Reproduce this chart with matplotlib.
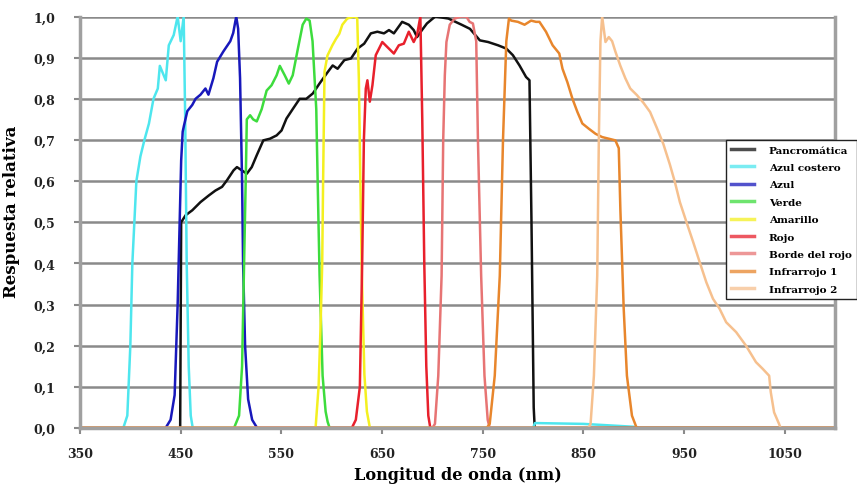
import matplotlib
matplotlib.use("Agg")
import matplotlib.pyplot as plt
from matplotlib.ticker import FuncFormatter, MultipleLocator

# Spectral response curves (wavelength nm, relative response)
pan_nm = [449.5, 450.5, 454.9, 461.5, 469.7, 477.9, 484.5, 491.1, 496, 502.5, 505.9, 510.8,
          515.7, 520.6, 525.6, 532.1, 538.7, 545.3, 550.2, 555.1, 561.6, 568.2, 574.8, 581.3,
          587.9, 596.1, 601, 605.9, 612.6, 619.2, 625.7, 632.3, 638.9, 645.4, 652, 656.9,
          661.8, 670, 676.6, 681.5, 684.8, 689.7, 694.6, 702.9, 716, 729.1, 737.4, 747.2,
          755.4, 765.3, 773.5, 780, 786.6, 793.1, 796.5, 798.5, 800.7, 801.7]
pan_val = [0, 0.5, 0.517, 0.529, 0.549, 0.565, 0.577, 0.586, 0.602, 0.626, 0.634, 0.626,
           0.618, 0.634, 0.663, 0.699, 0.703, 0.711, 0.723, 0.752, 0.776, 0.80, 0.80, 0.813,
           0.837, 0.865, 0.881, 0.873, 0.894, 0.898, 0.922, 0.934, 0.959, 0.963, 0.959, 0.967,
           0.959, 0.987, 0.98, 0.967, 0.95, 0.967, 0.983, 1.0, 0.995, 0.98, 0.97, 0.942,
           0.938, 0.93, 0.922, 0.906, 0.881, 0.853, 0.845, 0.5, 0.05, 0]

coastal_nm = [350, 393, 397, 400, 402, 406, 410, 414, 418.5, 423, 427.3, 429.3, 435.2, 438.2,
              443.1, 447, 450, 453, 454.5, 456, 458, 460, 462, 800, 802, 850, 900, 905, 1100]
coastal_val = [0, 0, 0.03, 0.2, 0.4, 0.6, 0.66, 0.70, 0.74, 0.80, 0.825, 0.88, 0.845, 0.93,
               0.955, 1.0, 0.94, 1.0, 0.75, 0.4, 0.15, 0.03, 0, 0, 0.012, 0.01, 0.003, 0, 0]

blue_nm = [350, 435, 440, 444, 447, 449, 450.5, 452, 453.3, 456.6, 461.5, 464.8, 469.7, 474.6,
           477.6, 482.5, 486.2, 492.4, 499.3, 502.2, 505.2, 507.1, 509, 511, 512, 514, 517,
           521, 526, 1100]
blue_val = [0, 0, 0.02, 0.08, 0.3, 0.5, 0.65, 0.72, 0.735, 0.77, 0.785, 0.80, 0.81, 0.825,
            0.81, 0.85, 0.89, 0.915, 0.94, 0.96, 1.0, 0.97, 0.85, 0.6, 0.4, 0.2, 0.07,
            0.02, 0, 0]

green_nm = [350, 503, 508, 511, 513, 515, 515.7, 519, 522, 525.6, 530.5, 535.4, 540.3, 545.3,
            548.5, 553.4, 557.4, 561.3, 566.3, 571.2, 574.8, 578.1, 581, 584.7, 586, 588,
            591, 594, 596, 598, 1100]
green_val = [0, 0, 0.03, 0.15, 0.4, 0.65, 0.75, 0.76, 0.75, 0.745, 0.775, 0.82, 0.833, 0.857,
             0.88, 0.857, 0.837, 0.857, 0.92, 0.98, 0.995, 0.99, 0.94, 0.775, 0.61, 0.37,
             0.127, 0.04, 0.015, 0, 0]

yellow_nm = [350, 584, 587, 589, 590.6, 591.5, 592.9, 595.8, 600.7, 604.4, 607.6, 610.6, 615.5,
             622.4, 625.4, 627, 628.5, 630, 632.5, 635, 638, 1100]
yellow_val = [0, 0, 0.1, 0.25, 0.4, 0.6, 0.866, 0.905, 0.93, 0.946, 0.958, 0.98, 0.995, 1.0,
              0.995, 0.85, 0.6, 0.37, 0.13, 0.04, 0, 0]

red_nm = [350, 620, 624, 628, 630.3, 632, 633.9, 635.5, 637.9, 640.5, 643.8, 650.3, 655.2,
          661.8, 666.7, 671.7, 676.6, 681.5, 684.8, 688.1, 690, 692, 694, 696, 698, 1100]
red_val = [0, 0, 0.02, 0.1, 0.4, 0.7, 0.825, 0.845, 0.793, 0.833, 0.906, 0.938, 0.926, 0.91,
           0.93, 0.934, 0.963, 0.938, 0.955, 1.0, 0.75, 0.4, 0.15, 0.03, 0, 0]

rededge_nm = [350, 700, 702.6, 705.9, 709.2, 710.8, 712.4, 714, 717.3, 722.2, 728.8, 733.7, 737,
              740.3, 743.6, 745.3, 748.5, 751.8, 755, 757, 1100]
rededge_val = [0, 0, 0.01, 0.127, 0.37, 0.70, 0.857, 0.938, 0.98, 0.995, 1.0, 1.0, 0.987,
               0.983, 0.94, 0.70, 0.37, 0.127, 0.02, 0, 0]

nir1_nm = [350, 754, 757, 762, 767, 770.2, 773.5, 776.1, 778.4, 785, 791.6, 798.1, 803, 806.4,
           812.9, 819.5, 826.1, 829.3, 834.2, 839.2, 844.1, 849, 855.6, 862.1, 868.7, 875.3,
           881.8, 885.2, 886.8, 890.1, 893.3, 898.3, 903, 1100]
nir1_val = [0, 0, 0.01, 0.127, 0.37, 0.70, 0.94, 0.995, 0.99, 0.987, 0.98, 0.99, 0.987, 0.987,
            0.963, 0.93, 0.91, 0.873, 0.84, 0.80, 0.768, 0.74, 0.727, 0.715, 0.707, 0.703,
            0.699, 0.68, 0.53, 0.29, 0.127, 0.03, 0, 0]

nir2_nm = [350, 855, 857.2, 860.5, 863.8, 865.4, 867, 868.7, 872, 875.3, 878.6, 881.8, 886.8,
           891.7, 896.6, 903.2, 909.8, 916.3, 922.9, 929.5, 936, 940.9, 945.9, 952.5, 959.1,
           965.6, 972.2, 978.8, 985.3, 991.9, 1001.8, 1011.6, 1021.5, 1028.1, 1034.6, 1036.2,
           1039.5, 1044.4, 1046, 1100]
nir2_val = [0, 0, 0.01, 0.127, 0.37, 0.70, 0.94, 1.0, 0.938, 0.95, 0.94, 0.915, 0.88, 0.85,
            0.825, 0.809, 0.79, 0.768, 0.73, 0.69, 0.64, 0.598, 0.549, 0.50, 0.452, 0.403,
            0.354, 0.314, 0.29, 0.257, 0.233, 0.20, 0.16, 0.144, 0.127, 0.087, 0.038, 0.01,
            0, 0]

series = [
    ("Pancromática", pan_nm, pan_val, "#111111"),
    ("Azul costero", coastal_nm, coastal_val, "#4ee6ee"),
    ("Azul", blue_nm, blue_val, "#1818bb"),
    ("Verde", green_nm, green_val, "#3ddc3d"),
    ("Amarillo", yellow_nm, yellow_val, "#f4f020"),
    ("Rojo", red_nm, red_val, "#e8202c"),
    ("Borde del rojo", rededge_nm, rededge_val, "#e77474"),
    ("Infrarrojo 1", nir1_nm, nir1_val, "#e8862c"),
    ("Infrarrojo 2", nir2_nm, nir2_val, "#f6c08e"),
]

plt.rcParams["font.family"] = "DejaVu Serif"
plt.rcParams["font.weight"] = "bold"

fig = plt.figure(figsize=(8.57, 4.85), dpi=100)
ax = fig.add_axes([80 / 857, 56 / 485, 755 / 857, 411.5 / 485])

for label, xs, ys, color in series:
    ax.plot(xs, ys, color=color, lw=1.8, label=label, solid_joinstyle="round")

ax.set_xlim(350, 1100)
ax.set_ylim(0, 1.0)
ax.set_xticks(range(350, 1051, 100))
ax.yaxis.set_major_locator(MultipleLocator(0.1))
ax.yaxis.set_major_formatter(FuncFormatter(lambda v, p: f"{v:.1f}".replace(".", ",")))

ax.grid(axis="y", color="#8a8a8a", lw=1.8)
ax.set_axisbelow(True)
for side in ["left", "bottom", "right"]:
    ax.spines[side].set_color("#a0a0a0")
    ax.spines[side].set_linewidth(2.5)
ax.spines["top"].set_visible(False)

ax.tick_params(axis="both", colors="#8a8a8a", width=1.5, length=4,
               labelcolor="#222222", labelsize=9)
ax.tick_params(axis="y", pad=14)
ax.tick_params(axis="x", pad=10)

ax.set_xlabel("Longitud de onda (nm)", fontsize=11.6, fontweight="bold", labelpad=4)
ax.set_ylabel("Respuesta relativa", fontsize=12, fontweight="bold")
ax.yaxis.set_label_coords(-0.079, 0.527)

leg = ax.legend(loc="upper left", bbox_to_anchor=(726 / 857, 1 - 141 / 485),
                bbox_transform=fig.transFigure, borderaxespad=0, fancybox=False,
                framealpha=1, edgecolor="#222222", prop={"size": 7.5, "weight": "bold"},
                handlelength=2.2, handletextpad=1.4, labelspacing=0.78, borderpad=0.5)
leg.get_frame().set_linewidth(1.0)
for line in leg.get_lines():
    line.set_linewidth(2.5)
    line.set_alpha(0.75)

fig.savefig("out.png", dpi=100)
